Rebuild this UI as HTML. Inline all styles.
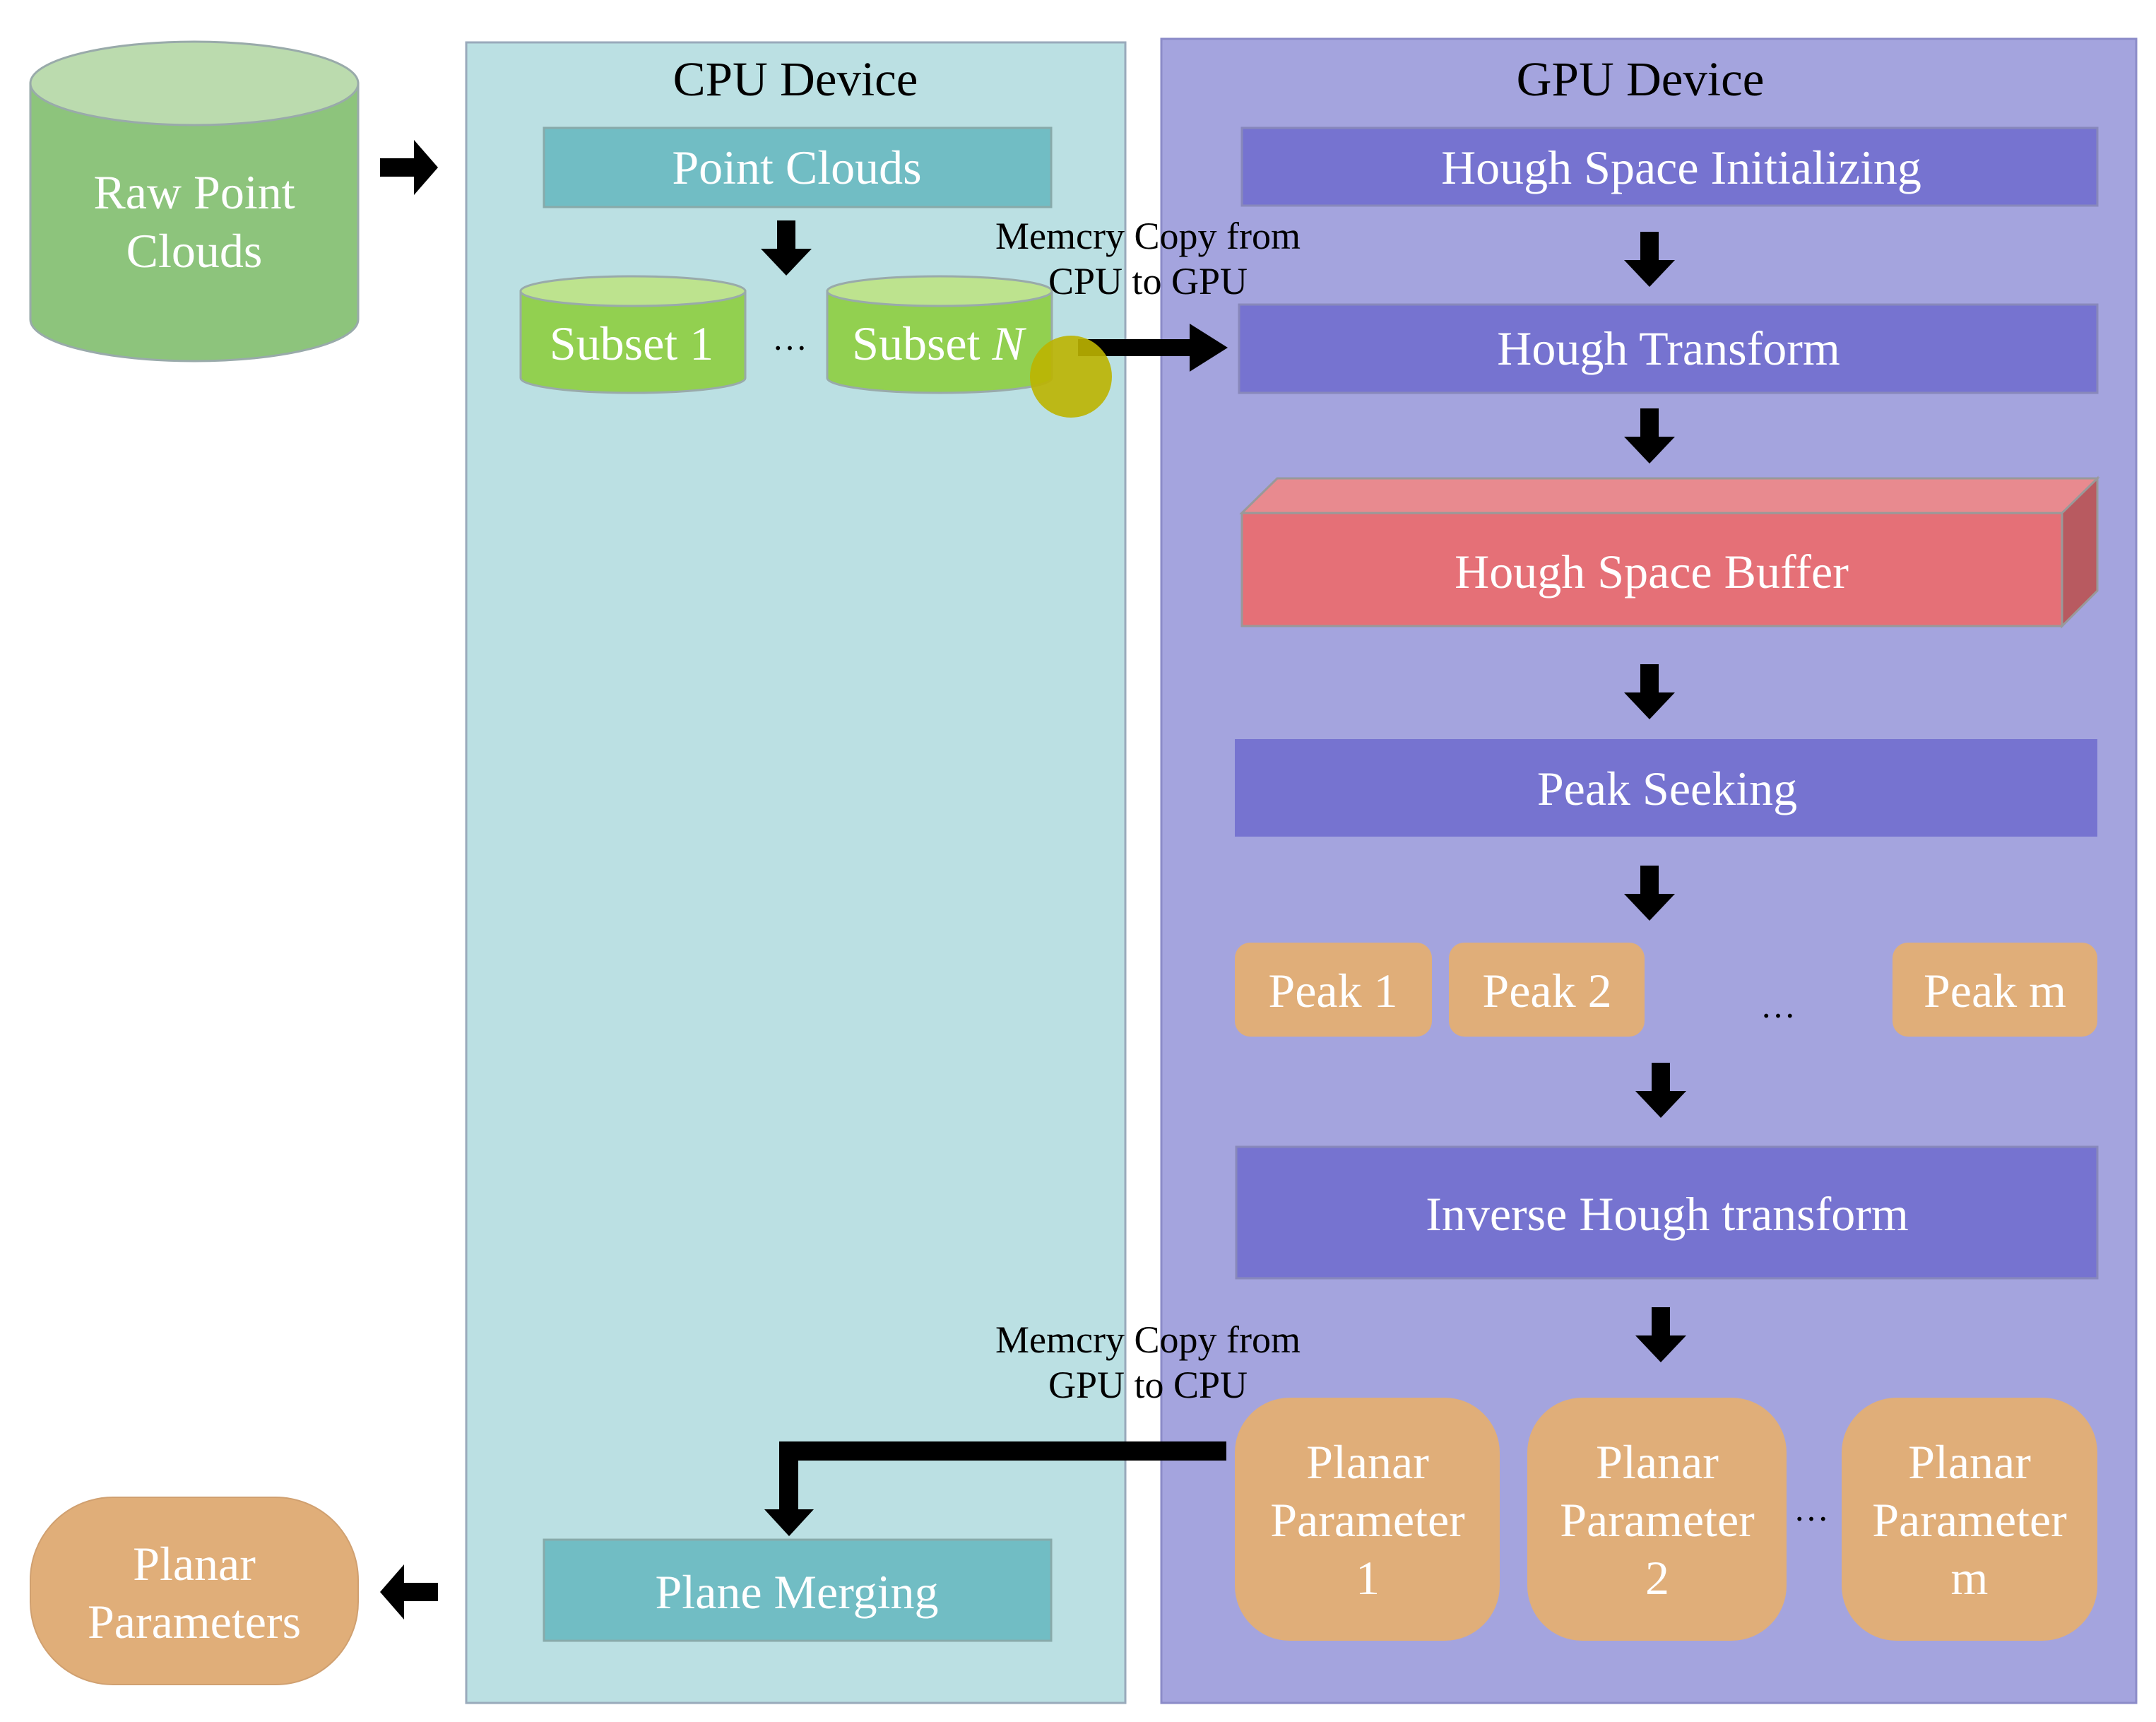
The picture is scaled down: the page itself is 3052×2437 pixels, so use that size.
<!DOCTYPE html>
<html><head><meta charset="utf-8"><style>
html,body{margin:0;padding:0;background:#fff}
svg{display:block}
text{font-family:"Liberation Serif",serif}
.w{fill:#fff;font-size:68px;text-anchor:middle}
.b{fill:#000;text-anchor:middle}
</style></head><body>
<svg width="3052" height="2437" viewBox="0 0 3052 2437" xmlns="http://www.w3.org/2000/svg">
<defs>
<g id="da"><rect x="-13" y="0" width="26" height="42" fill="#000"/><polygon points="-36,40 36,40 0,78" fill="#000"/></g>
</defs>
<rect x="660" y="60" width="933" height="2350" fill="#bbe0e3" stroke="#9ab" stroke-width="3"/>
<rect x="1644" y="55" width="1380" height="2355" fill="#a4a4de" stroke="#8b8bc8" stroke-width="3"/>
<text x="1126" y="135" class="b" font-size="69">CPU Device</text>
<text x="2322" y="135" class="b" font-size="69">GPU Device</text>

<path d="M43,118 L43,452 A232,59 0 0 0 507,452 L507,118 Z" fill="#8dc47c" stroke="#9aa" stroke-width="3"/>
<ellipse cx="275" cy="118" rx="232" ry="59" fill="#bbdbae" stroke="#9aa" stroke-width="3"/>
<text x="275" y="295" class="w">Raw Point</text>
<text x="275" y="378" class="w">Clouds</text>
<rect x="538" y="224" width="50" height="26" fill="#000"/><polygon points="586,198 620,237 586,276" fill="#000"/>

<rect x="770" y="181" width="718" height="112" fill="#71bdc4" stroke="#8aa" stroke-width="3"/>
<text x="1128" y="260" class="w">Point Clouds</text>
<use href="#da" x="1113" y="312"/>
<path d="M737,412 L737,535 A159,21 0 0 0 1055,535 L1055,412 Z" fill="#92d050" stroke="#9aa" stroke-width="3"/>
<ellipse cx="896" cy="412" rx="159" ry="21" fill="#bde38e" stroke="#9aa" stroke-width="3"/>
<text x="894" y="509" class="w">Subset 1</text>
<path d="M1171,412 L1171,535 A159,21 0 0 0 1489,535 L1489,412 Z" fill="#92d050" stroke="#9aa" stroke-width="3"/>
<ellipse cx="1330" cy="412" rx="159" ry="21" fill="#bde38e" stroke="#9aa" stroke-width="3"/>
<text x="1328" y="509" class="w">Subset <tspan font-style="italic">N</tspan></text>
<text x="1118" y="495" class="b" font-size="50">…</text>

<text x="1625" y="352" class="b" font-size="54">Memcry Copy from</text>
<text x="1625" y="416" class="b" font-size="54">CPU to GPU</text>
<rect x="1526" y="480" width="160" height="24" fill="#000"/><polygon points="1684,458 1738,492 1684,526" fill="#000"/>
<circle cx="1516" cy="533" r="58" fill="#bcb400" fill-opacity="0.9"/>

<rect x="1758" y="181" width="1211" height="110" fill="#7673d0" stroke="#8888bb" stroke-width="3"/>
<text x="2380" y="260" class="w">Hough Space Initializing</text>
<use href="#da" x="2335" y="328"/>
<rect x="1754" y="431" width="1215" height="125" fill="#7673d0" stroke="#8888bb" stroke-width="3"/>
<text x="2362" y="516" class="w">Hough Transform</text>
<use href="#da" x="2335" y="578"/>
<polygon points="1758,726 1808,677 2969,677 2919,726" fill="#e88a8f" stroke="#999" stroke-width="3"/>
<polygon points="2919,726 2969,677 2969,836 2919,886" fill="#b85a60" stroke="#999" stroke-width="3"/>
<rect x="1758" y="726" width="1161" height="160" fill="#e57077" stroke="#999" stroke-width="3"/>
<text x="2338" y="832" class="w">Hough Space Buffer</text>
<use href="#da" x="2335" y="940"/>
<rect x="1748" y="1046" width="1221" height="138" fill="#7673d0"/>
<text x="2360" y="1139" class="w">Peak Seeking</text>
<use href="#da" x="2335" y="1225"/>
<rect x="1748" y="1334" width="279" height="133" rx="22" fill="#e0ae79"/>
<text x="1887" y="1425" class="w">Peak 1</text>
<rect x="2051" y="1334" width="277" height="133" rx="22" fill="#e0ae79"/>
<text x="2190" y="1425" class="w">Peak 2</text>
<rect x="2679" y="1334" width="290" height="133" rx="22" fill="#e0ae79"/>
<text x="2824" y="1425" class="w">Peak m</text>
<text x="2517" y="1440" class="b" font-size="50">…</text>
<use href="#da" x="2351" y="1504"/>
<rect x="1750" y="1623" width="1219" height="186" fill="#7673d0" stroke="#8888bb" stroke-width="3"/>
<text x="2360" y="1741" class="w">Inverse Hough transform</text>
<use href="#da" x="2351" y="1850"/>

<text x="1625" y="1914" class="b" font-size="54">Memcry Copy from</text>
<text x="1625" y="1978" class="b" font-size="54">GPU to CPU</text>

<rect x="1748" y="1978" width="375" height="344" rx="78" fill="#e0ae79"/>
<text x="1936" y="2092" class="w">Planar</text>
<text x="1936" y="2174" class="w">Parameter</text>
<text x="1936" y="2256" class="w">1</text>
<rect x="2162" y="1978" width="367" height="344" rx="78" fill="#e0ae79"/>
<text x="2346" y="2092" class="w">Planar</text>
<text x="2346" y="2174" class="w">Parameter</text>
<text x="2346" y="2256" class="w">2</text>
<rect x="2607" y="1978" width="362" height="344" rx="78" fill="#e0ae79"/>
<text x="2788" y="2092" class="w">Planar</text>
<text x="2788" y="2174" class="w">Parameter</text>
<text x="2788" y="2256" class="w">m</text>
<text x="2564" y="2152" class="b" font-size="50">…</text>

<rect x="1103" y="2040" width="633" height="27" fill="#000"/>
<rect x="1103" y="2040" width="27" height="100" fill="#000"/>
<polygon points="1082,2136 1152,2136 1117,2174" fill="#000"/>

<rect x="770" y="2179" width="718" height="143" fill="#71bdc4" stroke="#8aa" stroke-width="3"/>
<text x="1128" y="2276" class="w">Plane Merging</text>

<rect x="570" y="2240" width="50" height="26" fill="#000"/><polygon points="572,2214 538,2253 572,2292" fill="#000"/>
<rect x="43" y="2119" width="464" height="265" rx="117" ry="117" fill="#e0ae79" stroke="#d0a070" stroke-width="2"/>
<text x="275" y="2236" class="w">Planar</text>
<text x="275" y="2318" class="w">Parameters</text>
</svg>
</body></html>
